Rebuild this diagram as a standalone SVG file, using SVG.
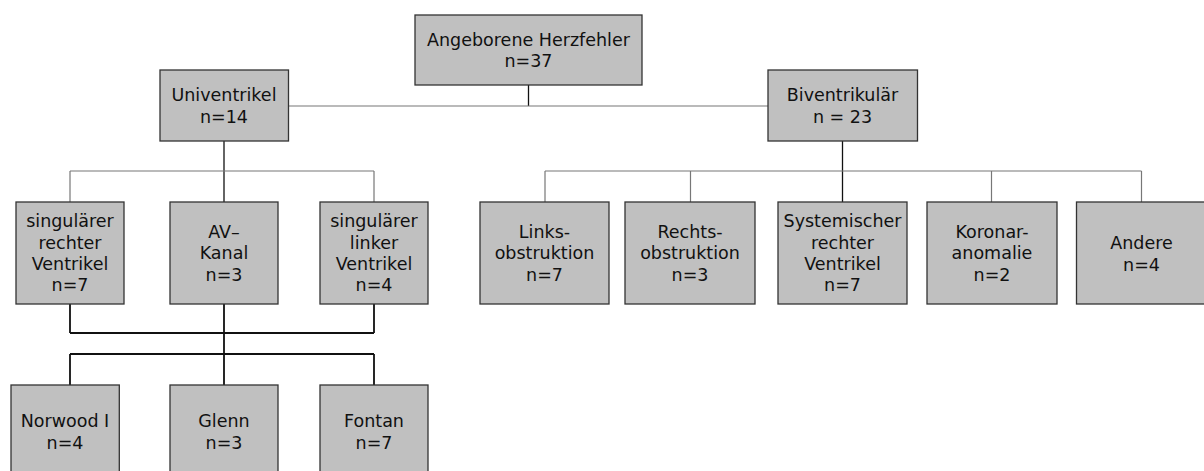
<svg xmlns="http://www.w3.org/2000/svg" width="1204" height="471" viewBox="0 0 1204 471">
<style>
.box{fill:#c0c0c0;stroke:#333;stroke-width:1.3}
.t{font-family:"DejaVu Sans","Liberation Sans",sans-serif;font-size:17.5px;fill:#111;text-anchor:middle}
.g{stroke:#777;stroke-width:1.2;fill:none}
.k{stroke:#111;stroke-width:1.3;fill:none}
.kb{stroke:#111;stroke-width:1.8;fill:none}
</style>
<rect width="1204" height="471" fill="#fff"/>
<g id="connectors">
<path class="k" d="M528.5 85V106"/>
<path class="g" d="M288.5 106H768"/>
<path class="k" d="M224 141V202"/>
<path class="g" d="M70 171H374M70 171V202M374 171V202"/>
<path class="k" d="M842.5 141V202"/>
<path class="g" d="M545 171H1141.5M545 171V202M690.5 171V202M991.5 171V202M1141.5 171V202"/>
<path class="kb" d="M70 304V333M224 304V385M374 304V333M70 333H374M70 354H374M70 354V385M374 354V385"/>
</g>
<g id="root"><rect class="box" x="415" y="15" width="227" height="70"/><text class="t" x="528.5" y="45.7">Angeborene Herzfehler</text><text class="t" x="528.5" y="67">n=37</text></g>
<g id="univentrikel"><rect class="box" x="160" y="70" width="128.5" height="71"/><text class="t" x="224" y="101.2">Univentrikel</text><text class="t" x="224" y="122.5">n=14</text></g>
<g id="biventrikular"><rect class="box" x="768" y="70" width="149.5" height="71"/><text class="t" x="842.5" y="101.2">Biventrikulär</text><text class="t" x="842.5" y="122.5">n = 23</text></g>
<g id="srv"><rect class="box" x="16" y="202" width="108" height="102"/><text class="t" x="70" y="227.4">singulärer</text><text class="t" x="70" y="248.7">rechter</text><text class="t" x="70" y="270">Ventrikel</text><text class="t" x="70" y="291.3">n=7</text></g>
<g id="avkanal"><rect class="box" x="170" y="202" width="108" height="102"/><text class="t" x="224" y="238">AV–</text><text class="t" x="224" y="259.3">Kanal</text><text class="t" x="224" y="280.6">n=3</text></g>
<g id="slv"><rect class="box" x="320" y="202" width="108" height="102"/><text class="t" x="374" y="227.4">singulärer</text><text class="t" x="374" y="248.7">linker</text><text class="t" x="374" y="270">Ventrikel</text><text class="t" x="374" y="291.3">n=4</text></g>
<g id="links"><rect class="box" x="480" y="202" width="129" height="102"/><text class="t" x="544.5" y="238">Links-</text><text class="t" x="544.5" y="259.3">obstruktion</text><text class="t" x="544.5" y="280.6">n=7</text></g>
<g id="rechts"><rect class="box" x="625" y="202" width="130" height="102"/><text class="t" x="690" y="238">Rechts-</text><text class="t" x="690" y="259.3">obstruktion</text><text class="t" x="690" y="280.6">n=3</text></g>
<g id="systemisch"><rect class="box" x="778" y="202" width="129" height="102"/><text class="t" x="842.5" y="227.4">Systemischer</text><text class="t" x="842.5" y="248.7">rechter</text><text class="t" x="842.5" y="270">Ventrikel</text><text class="t" x="842.5" y="291.3">n=7</text></g>
<g id="koronar"><rect class="box" x="927" y="202" width="130" height="102"/><text class="t" x="992" y="238">Koronar-</text><text class="t" x="992" y="259.3">anomalie</text><text class="t" x="992" y="280.6">n=2</text></g>
<g id="andere"><rect class="box" x="1076.5" y="202" width="130" height="102"/><text class="t" x="1141.5" y="249.3">Andere</text><text class="t" x="1141.5" y="270.6">n=4</text></g>
<g id="norwood"><rect class="box" x="11" y="385" width="108.3" height="95"/><text class="t" x="65" y="427.3">Norwood I</text><text class="t" x="65" y="448.7">n=4</text></g>
<g id="glenn"><rect class="box" x="170" y="385" width="108" height="95"/><text class="t" x="224" y="427.3">Glenn</text><text class="t" x="224" y="448.7">n=3</text></g>
<g id="fontan"><rect class="box" x="320" y="385" width="108" height="95"/><text class="t" x="374" y="427.3">Fontan</text><text class="t" x="374" y="448.7">n=7</text></g>
</svg>
